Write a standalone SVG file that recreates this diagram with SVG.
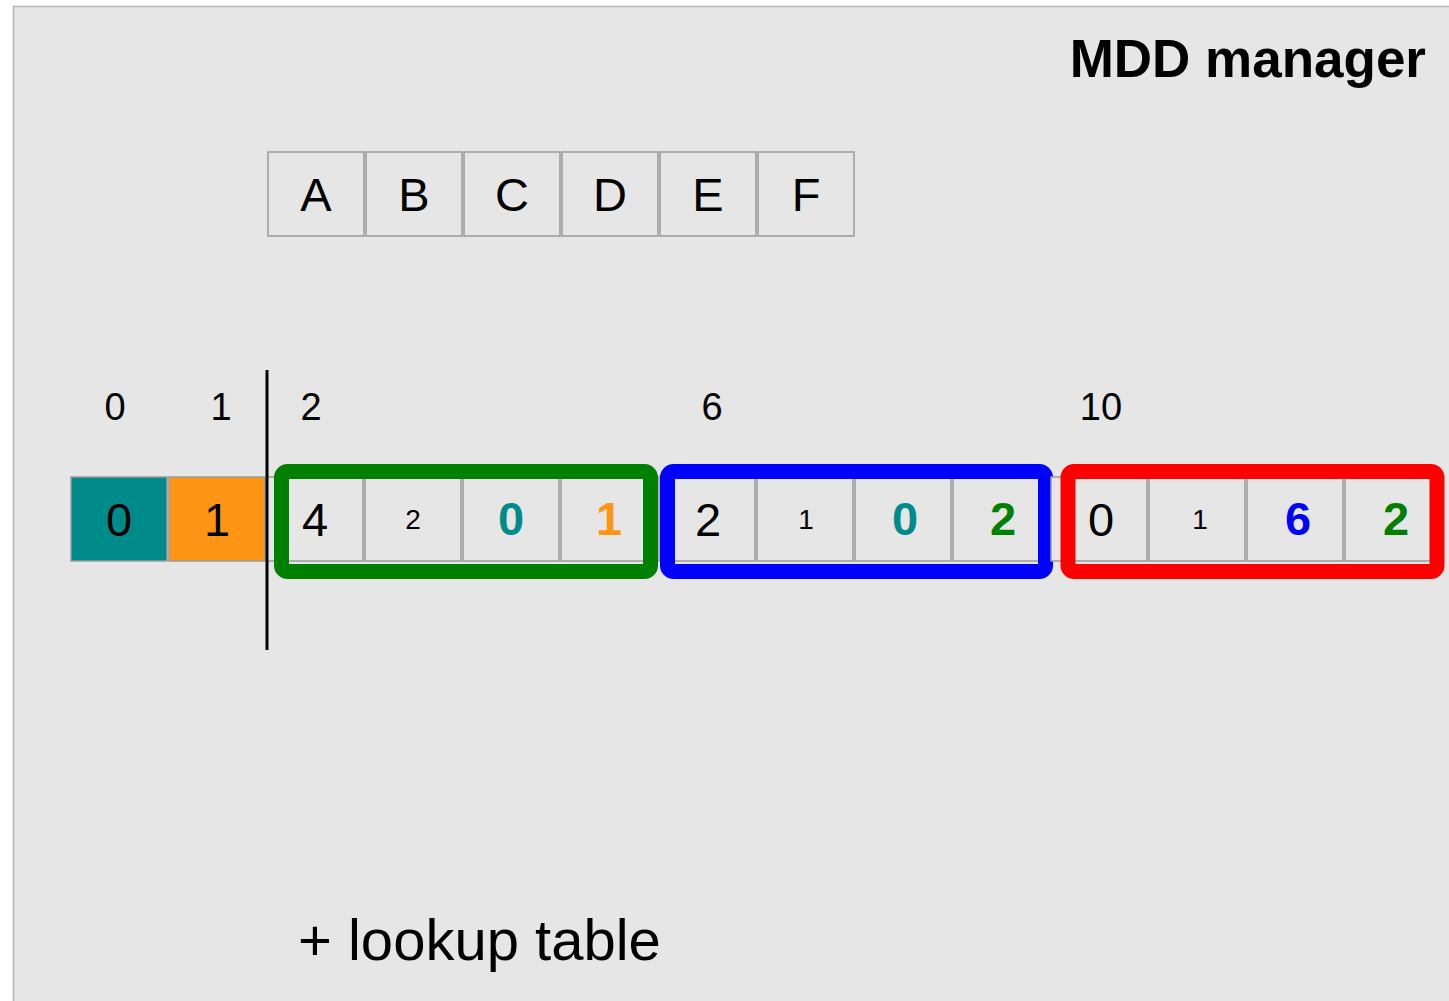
<svg xmlns="http://www.w3.org/2000/svg" width="1449" height="1001" viewBox="0 0 1449 1001">
<style>
.cell{fill:#e6e6e6;stroke:#9a9a9a;stroke-width:1.5}
.t{font-family:"Liberation Sans",Arial,sans-serif;text-anchor:middle;fill:#000}
.big{font-size:47px}
.small{font-size:28px}
.bold{font-size:47px;font-weight:bold}
.idx{font-size:38px}
.box{fill:none;stroke-width:15}
</style>
<rect x="0" y="0" width="1449" height="1001" fill="#ffffff"/>
<rect x="13.5" y="6.5" width="1500" height="1100" fill="#e6e6e6" stroke="#b3b3b3" stroke-width="1.5"/>
<text class="t" x="1426" y="77" font-size="53" font-weight="bold" style="text-anchor:end">MDD manager</text>

<g id="vars">
<rect class="cell" x="268" y="152" width="96" height="84"/><text class="t big" x="316" y="211">A</text>
<rect class="cell" x="366" y="152" width="96" height="84"/><text class="t big" x="414" y="211">B</text>
<rect class="cell" x="464" y="152" width="96" height="84"/><text class="t big" x="512" y="211">C</text>
<rect class="cell" x="562" y="152" width="96" height="84"/><text class="t big" x="610" y="211">D</text>
<rect class="cell" x="660" y="152" width="96" height="84"/><text class="t big" x="708" y="211">E</text>
<rect class="cell" x="758" y="152" width="96" height="84"/><text class="t big" x="806" y="211">F</text>
</g>

<g id="indices">
<text class="t idx" x="115" y="420">0</text>
<text class="t idx" x="221" y="420">1</text>
<text class="t idx" x="311" y="420">2</text>
<text class="t idx" x="712" y="420">6</text>
<text class="t idx" x="1101" y="420">10</text>
</g>

<g id="terminals">
<rect x="71" y="477" width="96" height="84" fill="#008b8b" stroke="#9a9a9a" stroke-width="1.5"/><text class="t big" x="119" y="536">0</text>
<rect x="169" y="477" width="96" height="84" fill="#ff9515" stroke="#9a9a9a" stroke-width="1.5"/><text class="t big" x="217" y="536">1</text>
</g>

<g id="node2">
<rect class="cell" x="267" y="477" width="96" height="84"/><text class="t big" x="315" y="536">4</text>
<rect class="cell" x="365" y="477" width="96" height="84"/><text class="t small" x="413" y="529">2</text>
<rect class="cell" x="463" y="477" width="96" height="84"/><text class="t bold" x="511" y="535" style="fill:#008b8b">0</text>
<rect class="cell" x="561" y="477" width="96" height="84"/><text class="t bold" x="609" y="535" style="fill:#ff9515">1</text>
<rect class="box" x="281.5" y="471.5" width="369" height="100" rx="6" stroke="#008000"/>
</g>

<g id="node6">
<rect class="cell" x="659" y="477" width="96" height="84"/><text class="t big" x="708" y="536">2</text>
<rect class="cell" x="757" y="477" width="96" height="84"/><text class="t small" x="806" y="529">1</text>
<rect class="cell" x="855" y="477" width="96" height="84"/><text class="t bold" x="905" y="535" style="fill:#008b8b">0</text>
<rect class="cell" x="953" y="477" width="96" height="84"/><text class="t bold" x="1003" y="535" style="fill:#008000">2</text>
<rect class="box" x="667.5" y="471.5" width="378" height="100" rx="6" stroke="#0000ff"/>
</g>

<g id="node10">
<rect class="cell" x="1051" y="477" width="96" height="84"/><text class="t big" x="1101" y="536">0</text>
<rect class="cell" x="1149" y="477" width="96" height="84"/><text class="t small" x="1200" y="529">1</text>
<rect class="cell" x="1247" y="477" width="96" height="84"/><text class="t bold" x="1298" y="535" style="fill:#0000ff">6</text>
<rect class="cell" x="1345" y="477" width="96" height="84"/><text class="t bold" x="1396" y="535" style="fill:#008000">2</text>
<rect class="box" x="1068" y="471.5" width="369" height="100" rx="6" stroke="#ff0000"/>
</g>

<g id="connectors">
<line x1="267" y1="370" x2="267" y2="650" stroke="#000" stroke-width="3"/>
</g>

<text class="t" x="298" y="960" font-size="58" style="text-anchor:start">+ lookup table</text>
</svg>
